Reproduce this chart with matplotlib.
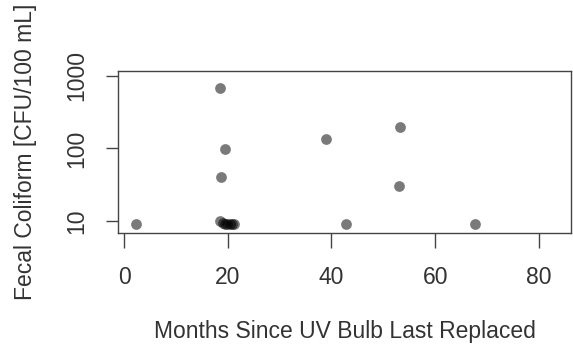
import matplotlib
matplotlib.use("Agg")
import matplotlib.pyplot as plt
import numpy

plt.rcParams['font.family'] = ['Liberation Sans', 'DejaVu Sans']

# Months since the UV bulb was replaced, and the matching fecal coliform count
months = [2.3, 18.6, 19.5, 18.7, 38.9, 53.2, 53.1, 42.8, 67.7,
          18.6, 19.0, 19.4, 19.9, 20.4, 20.9, 21.3]
coliform = [9, 680, 97, 40, 137, 197, 30, 9, 9,
            10, 9.5, 9, 9, 9, 9, 9]

xticks = [0, 20, 40, 60, 80]
yticks = [10, 100, 1000]
yticklabels = ["10", "100", "1000"]

fig = plt.figure(figsize=(5.73, 3.49), dpi=100)
ax = fig.add_axes([0.206, 0.332, 0.7905, 0.465])

ax.scatter(months, coliform, s=60, color="black", alpha=0.52, linewidths=0)

ax.set_yscale("log")
ax.set_xlim(-1.16, 86.2)
ax.set_ylim(6.83, 1172)

ax.set_xticks(xticks)
ax.set_yticks(yticks)
ax.set_yticklabels(yticklabels, rotation=90, va="center")
ax.yaxis.set_minor_locator(matplotlib.ticker.NullLocator())

for s in ax.spines.values():
    s.set_color("#444444")
    s.set_linewidth(1.0)

ax.tick_params(axis="x", length=11, width=1.0, color="#444444", labelsize=16.5, pad=13, labelcolor="#333333")
ax.tick_params(axis="y", length=8.5, width=1.0, color="#444444", labelsize=16.5, pad=13, labelcolor="#333333")

ax.set_xlabel("Months Since UV Bulb Last Replaced", fontsize=16.5, color="#333333", labelpad=22)
ax.set_ylabel("Fecal Coliform [CFU/100 mL]", fontsize=16.5, color="#333333", labelpad=20)

fig.savefig("out.png", dpi=100)
